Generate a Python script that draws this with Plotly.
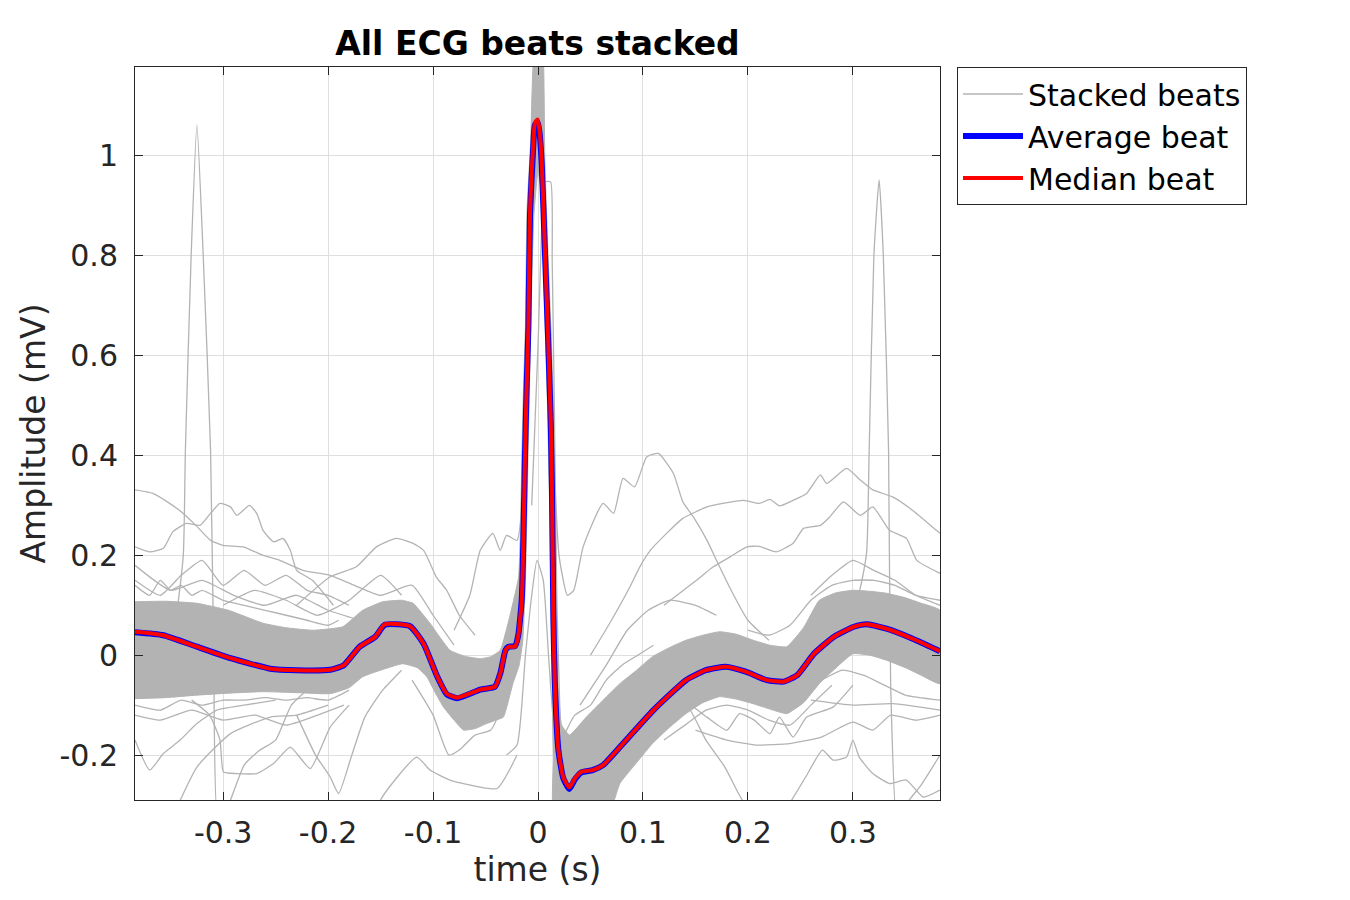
import plotly.graph_objects as go

# ---------------- data ----------------
t_med = [-0.384, -0.357, -0.325, -0.293, -0.255, -0.230, -0.198, -0.185, -0.170, -0.155,
         -0.146, -0.122, -0.109, -0.096, -0.087, -0.077, -0.055, -0.041, -0.036, -0.031,
         -0.028, -0.022, -0.019, -0.0155, -0.0135, -0.0125, -0.011, -0.0092, -0.0076, -0.0045,
         -0.003, -0.0003, 0.0015, 0.0035, 0.0067, 0.0098, 0.0121, 0.0133, 0.0146, 0.016,
         0.0194, 0.024, 0.0298, 0.035, 0.041, 0.052, 0.062, 0.078, 0.110, 0.141,
         0.160, 0.179, 0.198, 0.218, 0.234, 0.247, 0.263, 0.282, 0.301, 0.313,
         0.332, 0.357, 0.380, 0.383]
median_beat = [0.047, 0.040, 0.017, -0.006, -0.027, -0.030, -0.029, -0.020, 0.017, 0.037,
               0.062, 0.058, 0.023, -0.043, -0.077, -0.085, -0.069, -0.063, -0.037, 0.010,
               0.017, 0.017, 0.037, 0.110, 0.280, 0.390, 0.525, 0.658, 0.890, 1.025,
               1.066, 1.073, 1.050, 0.990, 0.805, 0.625, 0.470, 0.330, 0.077, -0.056,
               -0.190, -0.244, -0.265, -0.247, -0.234, -0.230, -0.220, -0.184, -0.110, -0.050,
               -0.030, -0.023, -0.033, -0.050, -0.053, -0.040, 0.003, 0.037, 0.057, 0.062,
               0.053, 0.033, 0.011, 0.008]
average_beat = [0.046, 0.040, 0.017, -0.006, -0.027, -0.030, -0.029, -0.020, 0.017, 0.037,
                0.061, 0.058, 0.023, -0.043, -0.078, -0.086, -0.069, -0.063, -0.037, 0.010,
                0.017, 0.018, 0.038, 0.112, 0.282, 0.392, 0.525, 0.656, 0.885, 1.020,
                1.062, 1.068, 1.045, 0.985, 0.800, 0.622, 0.468, 0.330, 0.080, -0.054,
                -0.190, -0.246, -0.268, -0.249, -0.235, -0.230, -0.220, -0.184, -0.110, -0.050,
                -0.030, -0.023, -0.033, -0.050, -0.053, -0.040, 0.003, 0.037, 0.057, 0.062,
                0.053, 0.033, 0.011, 0.008]

# envelope of the dense bundle of stacked beats
t_band_hi = [-0.384, -0.355, -0.325, -0.295, -0.262, -0.240, -0.214, -0.186, -0.167, -0.148,
             -0.130, -0.119, -0.103, -0.084, -0.070, -0.055, -0.045, -0.036, -0.027, -0.0185,
             -0.0165, -0.0155, -0.014, -0.012, -0.0105, -0.007, -0.004, 0.004, 0.0065, 0.0095,
             0.0128, 0.015, 0.016, 0.0175, 0.019, 0.0225, 0.030, 0.046, 0.062, 0.078,
             0.094, 0.109, 0.125, 0.141, 0.157, 0.173, 0.189, 0.205, 0.221, 0.237,
             0.253, 0.268, 0.284, 0.300, 0.316, 0.332, 0.350, 0.365, 0.383]
band_hi = [0.107, 0.108, 0.104, 0.090, 0.064, 0.055, 0.050, 0.057, 0.090, 0.107,
           0.110, 0.104, 0.064, 0.010, -0.002, -0.007, -0.003, 0.010, 0.077, 0.157,
           0.280, 0.390, 0.525, 0.660, 0.890, 1.030, 1.200, 1.250, 0.990, 0.805,
           0.625, 0.470, 0.300, 0.077, -0.056, -0.140, -0.160, -0.124, -0.090, -0.057,
           -0.030, -0.003, 0.015, 0.030, 0.040, 0.047, 0.042, 0.030, 0.020, 0.017,
           0.055, 0.110, 0.125, 0.130, 0.128, 0.124, 0.115, 0.104, 0.090]
t_band_lo = [-0.384, -0.355, -0.325, -0.295, -0.262, -0.230, -0.198, -0.180, -0.167, -0.150,
             -0.129, -0.115, -0.106, -0.098, -0.090, -0.080, -0.071, -0.060, -0.049, -0.040,
             -0.033, -0.024, -0.018, -0.0145, -0.012, -0.0095, -0.007, -0.004, 0.000, 0.003,
             0.006, 0.009, 0.0115, 0.013, 0.0145, 0.016, 0.062, 0.078, 0.094, 0.109,
             0.125, 0.141, 0.157, 0.173, 0.189, 0.205, 0.221, 0.237, 0.253, 0.268,
             0.284, 0.300, 0.316, 0.332, 0.350, 0.365, 0.383]
band_lo = [-0.087, -0.085, -0.080, -0.076, -0.073, -0.075, -0.077, -0.065, -0.043, -0.030,
           -0.017, -0.025, -0.043, -0.075, -0.104, -0.130, -0.150, -0.147, -0.137, -0.130,
           -0.124, -0.057, -0.020, 0.030, 0.150, 0.400, 0.660, 0.880, 0.970, 0.930,
           0.720, 0.500, 0.250, 0.000, -0.200, -0.350, -0.350, -0.257, -0.215, -0.177,
           -0.145, -0.117, -0.095, -0.083, -0.088, -0.097, -0.108, -0.117, -0.095, -0.057,
           -0.025, 0.003, 0.000, -0.010, -0.025, -0.040, -0.057]

# individual outlying beats
o1_t = [-0.384, -0.370, -0.355, -0.345, -0.338, -0.336, -0.3305, -0.325, -0.319, -0.312,
        -0.309, -0.305, -0.295, -0.280, -0.265, -0.250, -0.235, -0.215]
o1_v = [0.02, 0.06, 0.03, 0.08, 0.20, 0.41, 0.80, 1.062, 0.80, 0.41,
        0.00, -0.33, -0.30, -0.22, -0.19, -0.17, -0.10, -0.06]
o2_t = [0.270, 0.290, 0.305, 0.313, 0.3155, 0.320, 0.325, 0.329, 0.334, 0.336, 0.342, 0.350, 0.365, 0.383]
o2_v = [0.05, 0.08, 0.12, 0.204, 0.41, 0.80, 0.952, 0.80, 0.41, -0.06, -0.33, -0.30, -0.26, -0.20]
sr_t = [-0.030, -0.020, -0.012, -0.006, -0.001, 0.005, 0.010, 0.016, 0.022]
sr_v = [-0.20, -0.18, 0.00, 0.12, 0.19, 0.15, 0.00, -0.16, -0.20]
dl_t = [-0.006, 0.000, 0.004, 0.007, 0.012, 0.0135, 0.0155, 0.018, 0.022]
dl_v = [0.30, 0.62, 0.88, 0.948, 0.948, 0.79, 0.51, 0.10, -0.20]
a_t = [0.012, 0.015, 0.020, 0.028, 0.034, 0.043, 0.062, 0.072, 0.081, 0.092,
       0.1035, 0.1146, 0.129, 0.138, 0.148, 0.161, 0.173, 0.184, 0.200, 0.220]
a_v = [0.60, 0.40, 0.20, 0.12, 0.13, 0.217, 0.304, 0.284, 0.354, 0.337,
       0.397, 0.404, 0.364, 0.307, 0.277, 0.23, 0.177, 0.13, 0.07, 0.03]
c_t = [0.050, 0.070, 0.0876, 0.097, 0.107, 0.1225, 0.138, 0.161, 0.176, 0.196,
       0.211, 0.221, 0.230, 0.243, 0.256, 0.269, 0.275, 0.294, 0.307, 0.319,
       0.338, 0.357, 0.383]
c_v = [0.00, 0.07, 0.137, 0.177, 0.21, 0.244, 0.274, 0.297, 0.304, 0.31,
       0.304, 0.312, 0.299, 0.31, 0.324, 0.361, 0.344, 0.374, 0.351, 0.331,
       0.317, 0.29, 0.244]
u2_t = [0.120, 0.151, 0.167, 0.183, 0.199, 0.211, 0.227, 0.243, 0.253, 0.269,
        0.278, 0.291, 0.307, 0.319, 0.335, 0.351, 0.361, 0.383]
u2_v = [0.10, 0.15, 0.177, 0.197, 0.217, 0.218, 0.207, 0.224, 0.254, 0.26,
        0.277, 0.307, 0.28, 0.297, 0.25, 0.234, 0.19, 0.164]
u3_t = [0.040, 0.065, 0.085, 0.105, 0.125, 0.150, 0.170]
u3_v = [-0.10, -0.02, 0.05, 0.09, 0.11, 0.10, 0.08]
l1_t = [-0.384, -0.367, -0.351, -0.338, -0.326, -0.312, -0.300, -0.281, -0.262, -0.246,
        -0.224, -0.198, -0.175, -0.150, -0.120, -0.100, -0.080]
l1_v = [0.331, 0.324, 0.304, 0.284, 0.26, 0.23, 0.22, 0.217, 0.20, 0.19,
        0.17, 0.16, 0.14, 0.12, 0.14, 0.08, 0.02]
l2_t = [-0.384, -0.370, -0.357, -0.348, -0.335, -0.322, -0.312, -0.303, -0.293, -0.287,
        -0.275, -0.268, -0.262, -0.252, -0.243, -0.236, -0.230, -0.215, -0.195]
l2_v = [0.217, 0.207, 0.214, 0.247, 0.264, 0.26, 0.284, 0.304, 0.297, 0.28,
        0.30, 0.284, 0.25, 0.227, 0.234, 0.21, 0.17, 0.15, 0.10]
l3_t = [-0.230, -0.198, -0.173, -0.154, -0.135, -0.119, -0.109, -0.097, -0.087, -0.075, -0.060]
l3_v = [0.10, 0.157, 0.177, 0.217, 0.234, 0.224, 0.21, 0.157, 0.13, 0.08, 0.04]
l4_t = [-0.080, -0.065, -0.055, -0.043, -0.036, -0.030, -0.020, -0.014]
l4_v = [0.05, 0.12, 0.21, 0.244, 0.21, 0.24, 0.23, 0.35]
l5_t = [-0.384, -0.360, -0.340, -0.320, -0.300, -0.280, -0.260, -0.240, -0.220, -0.200, -0.180]
l5_v = [0.15, 0.12, 0.16, 0.19, 0.14, 0.17, 0.14, 0.16, 0.13, 0.12, 0.10]
l6_t = [-0.384, -0.350, -0.320, -0.290, -0.260, -0.230, -0.200, -0.170]
l6_v = [0.18, 0.13, 0.15, 0.12, 0.10, 0.12, 0.09, 0.07]
l7_t = [-0.300, -0.270, -0.240, -0.210, -0.180, -0.150, -0.130]
l7_v = [0.10, 0.13, 0.11, 0.08, 0.11, 0.16, 0.12]
b1_t = [-0.384, -0.370, -0.357, -0.341, -0.325, -0.306, -0.280, -0.250]
b1_v = [-0.17, -0.23, -0.197, -0.17, -0.137, -0.11, -0.10, -0.09]
b2_t = [-0.343, -0.325, -0.293, -0.255, -0.230, -0.200]
b2_v = [-0.30, -0.224, -0.157, -0.124, -0.12, -0.10]
b3_t = [-0.330, -0.313, -0.303, -0.2997, -0.287, -0.268, -0.252, -0.236, -0.217, -0.198, -0.180]
b3_v = [-0.09, -0.12, -0.17, -0.234, -0.237, -0.237, -0.217, -0.184, -0.227, -0.144, -0.10]
b4_t = [-0.230, -0.212, -0.198, -0.190, -0.178, -0.165, -0.148, -0.130]
b4_v = [-0.12, -0.20, -0.244, -0.277, -0.204, -0.124, -0.07, -0.03]
b5_t = [-0.155, -0.150, -0.1155, -0.103, -0.084, -0.071, -0.039, -0.020]
b5_v = [-0.35, -0.29, -0.204, -0.23, -0.25, -0.257, -0.267, -0.20]
b6_t = [-0.120, -0.100, -0.085, -0.075, -0.060, -0.045, -0.030]
b6_v = [-0.05, -0.12, -0.20, -0.19, -0.16, -0.15, -0.08]
b7_t = [-0.384, -0.360, -0.330, -0.300, -0.270, -0.240, -0.210, -0.185]
b7_v = [-0.12, -0.13, -0.11, -0.13, -0.12, -0.14, -0.12, -0.10]
r1_t = [0.025, 0.035, 0.050, 0.065, 0.080, 0.095, 0.110]
r1_v = [-0.16, -0.12, -0.10, -0.05, -0.02, 0.00, 0.02]
r2_t = [0.140, 0.161, 0.180, 0.192, 0.206, 0.221, 0.230, 0.243, 0.256, 0.281, 0.300]
r2_v = [-0.09, -0.124, -0.15, -0.117, -0.13, -0.157, -0.124, -0.164, -0.124, -0.104, -0.06]
r3_t = [0.150, 0.180, 0.208, 0.240, 0.270, 0.300, 0.319, 0.336, 0.360, 0.383]
r3_v = [-0.15, -0.17, -0.18, -0.177, -0.164, -0.134, -0.15, -0.12, -0.13, -0.12]
r4_t = [0.120, 0.143, 0.160, 0.178, 0.191, 0.200]
r4_v = [-0.08, -0.104, -0.17, -0.224, -0.277, -0.31]
r5_t = [0.236, 0.255, 0.271, 0.281, 0.294, 0.300, 0.306, 0.319, 0.335, 0.351, 0.367, 0.383]
r5_v = [-0.31, -0.244, -0.19, -0.21, -0.204, -0.17, -0.204, -0.237, -0.257, -0.25, -0.284, -0.27]
r6_t = [0.260, 0.300, 0.338, 0.383]
r6_v = [-0.09, -0.10, -0.097, -0.11]
r7_t = [0.260, 0.280, 0.300, 0.320, 0.340, 0.360, 0.383]
r7_v = [0.12, 0.16, 0.19, 0.17, 0.15, 0.12, 0.10]
r8_t = [0.250, 0.270, 0.290, 0.310, 0.330, 0.350, 0.383]
r8_v = [-0.07, -0.05, -0.03, -0.04, -0.06, -0.08, -0.09]
# sparse beats at the edges of the bundle
fh1_t = [-0.384, -0.370, -0.360, -0.350, -0.340, -0.330, -0.320, -0.300, -0.280, -0.260, -0.240, -0.220, -0.200, -0.190]
fh1_v = [0.14, 0.12, 0.15, 0.13, 0.14, 0.12, 0.13, 0.11, 0.10, 0.09, 0.08, 0.07, 0.06, 0.07]
fl1_t = [-0.384, -0.360, -0.340, -0.320, -0.300, -0.280, -0.260, -0.240, -0.220, -0.200, -0.180]
fl1_v = [-0.10, -0.11, -0.09, -0.10, -0.09, -0.09, -0.085, -0.09, -0.085, -0.09, -0.07]
fh2_t = [0.200, 0.220, 0.240, 0.260, 0.280, 0.300, 0.320, 0.340, 0.360, 0.383]
fh2_v = [0.05, 0.04, 0.06, 0.11, 0.14, 0.15, 0.15, 0.14, 0.12, 0.11]
fl2_t = [0.120, 0.140, 0.160, 0.180, 0.200, 0.220, 0.240, 0.260, 0.280]
fl2_v = [-0.17, -0.14, -0.11, -0.10, -0.11, -0.13, -0.14, -0.10, -0.06]

x_ticks = [-0.3, -0.2, -0.1, 0, 0.1, 0.2, 0.3]
x_tick_labels = ["-0.3", "-0.2", "-0.1", "0", "0.1", "0.2", "0.3"]
y_ticks = [-0.2, 0, 0.2, 0.4, 0.6, 0.8, 1]
y_tick_labels = ["-0.2", "0", "0.2", "0.4", "0.6", "0.8", "1"]

# ---------------- figure ----------------
GRAY = "#b3b3b3"
AX = "#262626"
FONT = "DejaVu Sans"

fig = go.Figure()

# dense bundle
fig.add_trace(go.Scatter(
    x=t_band_hi + t_band_lo[::-1], y=band_hi + band_lo[::-1],
    mode="lines", fill="toself", fillcolor=GRAY,
    line=dict(color=GRAY, width=1, shape="spline", smoothing=0.4),
    showlegend=False, hoverinfo="skip"))

outliers = [(o1_t, o1_v), (o2_t, o2_v), (sr_t, sr_v), (dl_t, dl_v), (a_t, a_v), (c_t, c_v),
            (u2_t, u2_v), (u3_t, u3_v), (l1_t, l1_v), (l2_t, l2_v), (l3_t, l3_v), (l4_t, l4_v),
            (l5_t, l5_v), (l6_t, l6_v), (l7_t, l7_v), (b1_t, b1_v), (b2_t, b2_v), (b3_t, b3_v),
            (b4_t, b4_v), (b5_t, b5_v), (b6_t, b6_v), (b7_t, b7_v), (r1_t, r1_v), (r2_t, r2_v),
            (r3_t, r3_v), (r4_t, r4_v), (r5_t, r5_v), (r6_t, r6_v), (r7_t, r7_v), (r8_t, r8_v),
            (fh1_t, fh1_v), (fl1_t, fl1_v), (fh2_t, fh2_v), (fl2_t, fl2_v)]
for i, (tt, vv) in enumerate(outliers):
    fig.add_trace(go.Scatter(
        x=tt, y=vv, mode="lines",
        line=dict(color=GRAY, width=1.3, shape="spline", smoothing=0.5),
        name="Stacked beats", showlegend=(i == 0), hoverinfo="skip"))

fig.add_trace(go.Scatter(x=t_med, y=average_beat, mode="lines", name="Average beat",
                         line=dict(color="#0000ff", width=6, shape="spline", smoothing=0.5)))
fig.add_trace(go.Scatter(x=t_med, y=median_beat, mode="lines", name="Median beat",
                         line=dict(color="#ff0000", width=4, shape="spline", smoothing=0.5)))

axis_common = dict(
    showline=True, linecolor=AX, linewidth=1, mirror="ticks",
    ticks="inside", ticklen=8, tickwidth=1, tickcolor=AX,
    showgrid=True, gridcolor="#dfdfdf", gridwidth=1, zeroline=False,
    tickfont=dict(family=FONT, size=30, color=AX),
)

# the page shows the figure with an 8 px offset; margins compensate for it
ML, MT, PW, PH = 127, 59, 805, 733
fig.update_layout(
    width=1350, height=900,
    paper_bgcolor="white", plot_bgcolor="white",
    margin=dict(l=ML, r=1350 - ML - PW, t=MT, b=900 - MT - PH),
    title=dict(text="<b>All ECG beats stacked</b>", x=(ML + PW / 2) / 1350, xanchor="center",
               y=1 - 35 / 900, yanchor="middle",
               font=dict(family=FONT, size=33, color="black")),
    xaxis=dict(range=[-0.384, 0.383], tickvals=x_ticks, ticktext=x_tick_labels,
               title=dict(text="time (s)", font=dict(family=FONT, size=33, color=AX), standoff=6),
               ticklabelstandoff=6, **axis_common),
    yaxis=dict(range=[-0.29, 1.178], tickvals=y_ticks, ticktext=y_tick_labels,
               title=dict(text="Amplitude (mV)", font=dict(family=FONT, size=33, color=AX), standoff=3),
               ticklabelstandoff=10, **axis_common),
    legend=dict(x=(957 - 8 - ML) / PW, y=1, xanchor="left", yanchor="top",
                bgcolor="white", bordercolor=AX, borderwidth=1,
                font=dict(family=FONT, size=30, color="black"),
                itemwidth=60, tracegroupgap=0),
    showlegend=True,
)

fig.write_html("out.html")
